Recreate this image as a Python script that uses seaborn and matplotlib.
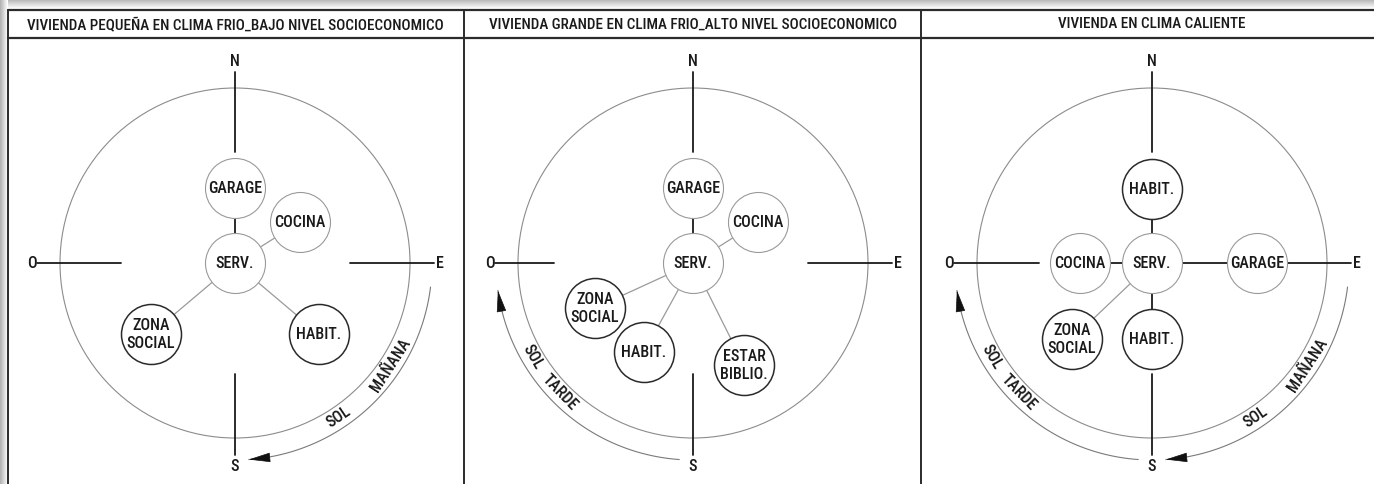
"""
plot.py

Recreates the three sun-orientation zoning diagrams
(vivienda en clima frio / clima caliente) and saves out.png.
"""

import numpy as np
import pandas as pd
import matplotlib.pyplot as plt
import seaborn as sns

# ---- data ------------------------------------------------------------------
panel_titles = [
    "VIVIENDA PEQUEÑA EN CLIMA FRIO_BAJO NIVEL SOCIOECONOMICO",
    "VIVIENDA GRANDE EN CLIMA FRIO_ALTO NIVEL SOCIOECONOMICO",
    "VIVIENDA EN CLIMA CALIENTE",
]

# rooms around the service hub, offsets in px from the compass centre (y up)
rooms_1 = ["SERV.", "GARAGE", "COCINA", "ZONA\nSOCIAL", "HABIT."]
dx_1 = [0, 0, 65, -84, 84]
dy_1 = [0, 75, 41, -71, -71]

rooms_2 = ["SERV.", "GARAGE", "COCINA", "ZONA\nSOCIAL", "HABIT.", "ESTAR\nBIBLIO."]
dx_2 = [0, 0, 65, -98, -49, 51]
dy_2 = [0, 75, 41, -45, -89, -102]

rooms_3 = ["SERV.", "HABIT.", "COCINA", "GARAGE", "ZONA\nSOCIAL", "HABIT."]
dx_3 = [0, 0, -72, 105, -80, 0]
dy_3 = [0, 74, 0, 0, -76, -76]

# rooms drawn with a dark outline
dark_rooms = ["ZONA\nSOCIAL", "HABIT.", "ESTAR\nBIBLIO."]

# inner end of the west compass arm per panel
west_inner = [-114, -139, -113]

# sun paths: (start angle, end angle with arrow), degrees from east, y up
sun_morning = (-7, -86)
sun_afternoon = (-94, -172)
sun_paths = [[sun_morning], [sun_afternoon], [sun_afternoon, sun_morning]]

# labels along the sun paths: (text, angle)
morning_labels = [("SOL", -56), ("MAÑANA", -33)]
afternoon_labels = [("SOL", -150), ("TARDE", -136)]

# ---- layout ----------------------------------------------------------------
W, H = 1374, 485
centres_x = [235, 693, 1152]
centre_y = 264
dividers = [8, 463.5, 920.5]
node_px = 60
ring_r = 175
path_r = 197
FONTS = ["Roboto Condensed", "IBM Plex Sans Condensed", "DejaVu Sans"]
TXT = dict(color="#1a1a1a", fontweight="medium")


def to_px(cx, dx, dy):
    return cx + dx, centre_y - dy


def draw_frame(ax):
    # grey page shadow along the top and left edges
    grad = np.linspace(0.70, 1.0, 10).reshape(-1, 1)
    ax.imshow(grad, cmap="gray", vmin=0, vmax=1, extent=(0, W, 10, 0),
              aspect="auto", zorder=0)
    ax.imshow(grad.T, cmap="gray", vmin=0, vmax=1, extent=(0, 8, H, 0),
              aspect="auto", zorder=0)
    for y in (10.5, 38.5):
        ax.plot([dividers[0], W], [y, y], color="#2b2b2b", lw=1.6, zorder=1)
    for x in dividers:
        ax.plot([x, x], [10.5, H], color="#2b2b2b", lw=1.4, zorder=1)
    for cx, title in zip(centres_x, panel_titles):
        ax.text(cx, 24.5, title, ha="center", va="center",
                fontsize=10.9, **TXT)


def draw_compass(ax, cx, w_in):
    ax.add_patch(plt.Circle((cx, centre_y), ring_r, fill=False,
                            ec="#8c8c8c", lw=0.8, zorder=1))
    arms = [((0, 111), (0, 191)), ((0, -111), (0, -192)),
            ((w_in, 0), (-198, 0)), ((115, 0), (199, 0))]
    for (x0, y0), (x1, y1) in arms:
        p0 = to_px(cx, x0, y0)
        p1 = to_px(cx, x1, y1)
        ax.plot([p0[0], p1[0]], [p0[1], p1[1]], color="#1a1a1a",
                lw=1.3, zorder=1)
    for letter, (lx, ly) in zip("NSOE", [(0, 202), (0, -203),
                                        (-203, 0), (205, 0)]):
        px, py = to_px(cx, lx, ly)
        ax.text(px, py, letter, ha="center", va="center",
                fontsize=11.5, **TXT)


def draw_sun_path(ax, cx, start, end, labels):
    theta = np.radians(np.linspace(start, end, 120))
    xs = cx + path_r * np.cos(theta)
    ys = centre_y - path_r * np.sin(theta)
    ax.plot(xs, ys, color="#7a7a7a", lw=0.8, zorder=1)
    ax.annotate("", xy=(xs[-1], ys[-1]), xytext=(xs[-6], ys[-6]),
                arrowprops=dict(arrowstyle="-|>,head_length=1.0,head_width=0.22",
                                color="#111111", lw=0.5, shrinkA=0, shrinkB=0,
                                mutation_scale=14), zorder=2)
    for text, ang in labels:
        r = 185
        px = cx + r * np.cos(np.radians(ang))
        py = centre_y - r * np.sin(np.radians(ang))
        ax.text(px, py, text, ha="center", va="center", rotation=ang + 90,
                rotation_mode="anchor", fontsize=11.5, **TXT)


def build_nodes():
    rows = []
    for p, (names, dxs, dys) in enumerate([(rooms_1, dx_1, dy_1),
                                           (rooms_2, dx_2, dy_2),
                                           (rooms_3, dx_3, dy_3)]):
        for name, dx, dy in zip(names, dxs, dys):
            px, py = to_px(centres_x[p], dx, dy)
            rows.append({"panel": p, "room": name, "dx": dx, "dy": dy,
                         "px": px, "py": py, "dark": name in dark_rooms})
    return pd.DataFrame(rows)


def draw_rooms(ax, nodes):
    # connectors from the service hub
    for p, grp in nodes.groupby("panel"):
        hub = grp.iloc[0]
        for _, r in grp.iloc[1:].iterrows():
            axis_aligned = r["dx"] == 0 or r["dy"] == 0
            ax.plot([hub["px"], r["px"]], [hub["py"], r["py"]],
                    color="#1a1a1a" if axis_aligned else "#9a9a9a",
                    lw=1.3 if axis_aligned else 0.9, zorder=1)

    size = (node_px * 72 / 100) ** 2
    for dark, grp in nodes.groupby("dark"):
        sns.scatterplot(data=grp, x="px", y="py", s=size, color="white",
                        edgecolor="#2a2a2a" if dark else "#9a9a9a",
                        linewidth=1.1 if dark else 0.8, zorder=3,
                        legend=False, ax=ax)
    for _, r in nodes.iterrows():
        ax.text(r["px"], r["py"], r["room"], ha="center", va="center",
                fontsize=11.5, linespacing=1.25, zorder=4, **TXT)


def main() -> None:
    sns.set_theme(style="white")
    plt.rcParams["font.family"] = FONTS

    fig = plt.figure(figsize=(W / 100, H / 100), dpi=100)
    ax = fig.add_axes([0, 0, 1, 1])
    ax.set_xlim(0, W)
    ax.set_ylim(H, 0)
    ax.axis("off")

    draw_frame(ax)
    for p, cx in enumerate(centres_x):
        draw_compass(ax, cx, west_inner[p])
        for start, end in sun_paths[p]:
            labels = morning_labels if start > -90 else afternoon_labels
            draw_sun_path(ax, cx, start, end, labels)
    draw_rooms(ax, build_nodes())

    ax.set_xlim(0, W)
    ax.set_ylim(H, 0)
    fig.savefig("out.png", dpi=100)
    plt.close(fig)


if __name__ == "__main__":
    main()
